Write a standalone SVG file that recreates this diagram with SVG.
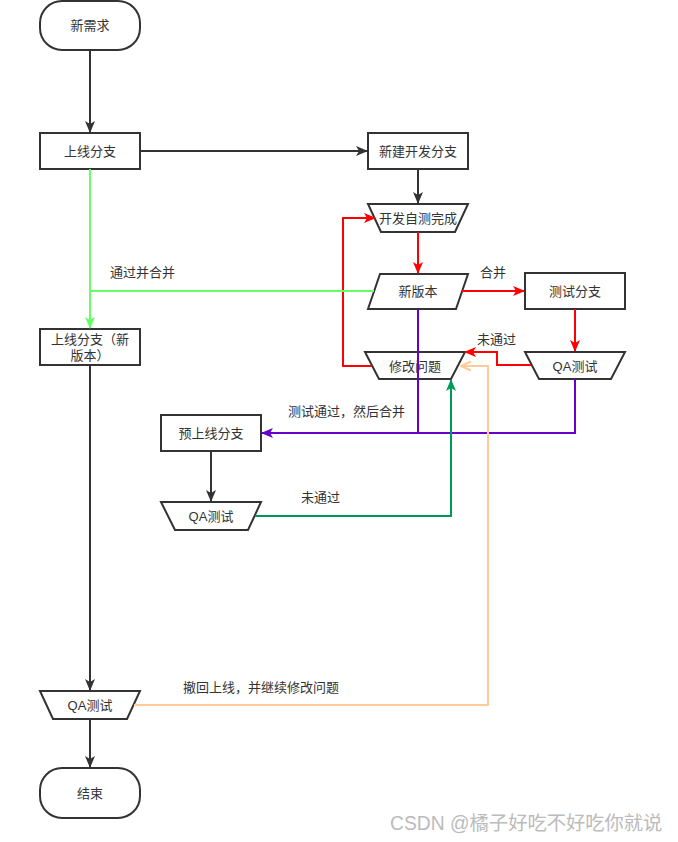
<svg xmlns="http://www.w3.org/2000/svg" width="678" height="842" viewBox="0 0 678 842">
<defs>
<style>
.n{fill:#fff;stroke:#333;stroke-width:2}
.t{font-family:"Liberation Sans","Noto Sans CJK SC",sans-serif;font-size:13px;fill:#333;text-anchor:middle;dominant-baseline:central}
.l{font-family:"Liberation Sans","Noto Sans CJK SC",sans-serif;font-size:13px;fill:#333}
.c{fill:none;stroke-width:2}
</style>
<marker id="aK" markerUnits="userSpaceOnUse" markerWidth="12" markerHeight="12" viewBox="0 0 12 12" refX="11" refY="6" orient="auto"><path d="M0,1 L12,6 L0,11 L3,6 Z" fill="#333"/></marker>
<marker id="aR" markerUnits="userSpaceOnUse" markerWidth="12" markerHeight="12" viewBox="0 0 12 12" refX="11" refY="6" orient="auto"><path d="M0,1 L12,6 L0,11 L3,6 Z" fill="#f00"/></marker>
<marker id="aP" markerUnits="userSpaceOnUse" markerWidth="12" markerHeight="12" viewBox="0 0 12 12" refX="11" refY="6" orient="auto"><path d="M0,1 L12,6 L0,11 L3,6 Z" fill="#6600cc"/></marker>
<marker id="aG" markerUnits="userSpaceOnUse" markerWidth="12" markerHeight="12" viewBox="0 0 12 12" refX="11" refY="6" orient="auto"><path d="M0,1 L12,6 L0,11 L3,6 Z" fill="#66ff66"/></marker>
<marker id="aD" markerUnits="userSpaceOnUse" markerWidth="12" markerHeight="12" viewBox="0 0 12 12" refX="11" refY="6" orient="auto"><path d="M0,1 L12,6 L0,11 L3,6 Z" fill="#00995c"/></marker>
<marker id="aO" markerUnits="userSpaceOnUse" markerWidth="12" markerHeight="12" viewBox="0 0 12 12" refX="11" refY="6" orient="auto"><path d="M1,1.5 L11,6 L1,10.5" fill="none" stroke="#ffcc99" stroke-width="2"/></marker>
</defs>
<rect width="678" height="842" fill="#fff"/>

<g id="nodes">
<g id="n-start"><rect class="n" x="40" y="1" width="100" height="49" rx="22" ry="22"/><text class="t" x="90" y="25">新需求</text></g>
<g id="n-online"><rect class="n" x="40" y="133" width="100" height="36"/><text class="t" x="90" y="151">上线分支</text></g>
<g id="n-newdev"><rect class="n" x="368" y="133" width="100" height="36"/><text class="t" x="418" y="151">新建开发分支</text></g>
<g id="n-selftest"><path class="n" d="M368,204 L468,204 L455,232 L381,232 Z"/><text class="t" x="418" y="218">开发自测完成</text></g>
<g id="n-newver"><path class="n" d="M380,274 L468,274 L456,309 L368,309 Z"/><text class="t" x="418" y="291">新版本</text></g>
<g id="n-testbr"><rect class="n" x="525" y="273" width="100" height="36"/><text class="t" x="575" y="291">测试分支</text></g>
<g id="n-fix"><path class="n" d="M365,352 L465,352 L451,379 L379,379 Z" fill="none"/><text class="t" x="415" y="366">修改问题</text></g>
<g id="n-qa1"><path class="n" d="M525,352 L625,352 L611,379 L539,379 Z"/><text class="t" x="575" y="366">QA测试</text></g>
<g id="n-pre"><rect class="n" x="161" y="415" width="100" height="36"/><text class="t" x="211" y="433">预上线分支</text></g>
<g id="n-qa2"><path class="n" d="M161,502 L261,502 L248,530 L175,530 Z"/><text class="t" x="211" y="516">QA测试</text></g>
<g id="n-onlinenew"><rect class="n" x="40" y="329" width="100" height="36"/><text class="t" x="90" y="339">上线分支（新</text><text class="t" x="90" y="355">版本）</text></g>
<g id="n-qa3"><path class="n" d="M40,691 L140,691 L127,719 L53,719 Z"/><text class="t" x="90" y="705">QA测试</text></g>
<g id="n-end"><rect class="n" x="40" y="768" width="100" height="50" rx="22" ry="22"/><text class="t" x="90" y="793">结束</text></g>
</g>

<g id="connectors">
<path class="c" stroke="#333" d="M90,50 L90,132" marker-end="url(#aK)"/>
<path class="c" stroke="#333" d="M140,151 L367,151" marker-end="url(#aK)"/>
<path class="c" stroke="#333" d="M418,169 L418,203" marker-end="url(#aK)"/>
<path class="c" stroke="#f00" d="M418,232 L418,273" marker-end="url(#aR)"/>
<path class="c" stroke="#f00" d="M462,291 L524,291" marker-end="url(#aR)"/>
<path class="c" stroke="#f00" d="M575,309 L575,351" marker-end="url(#aR)"/>
<path class="c" stroke="#f00" d="M531,365 L497,365 L497,352 L465,352" marker-end="url(#aR)"/>
<path class="c" stroke="#f00" d="M372,366 L343,366 L343,218 L375,218" marker-end="url(#aR)"/>
<path class="c" stroke="#6600cc" d="M418,309 L418,433 L262,433" marker-end="url(#aP)"/>
<path class="c" stroke="#6600cc" d="M575,379 L575,433 L418,433"/>
<path class="c" stroke="#66ff66" d="M90,169 L90,328" marker-end="url(#aG)"/>
<path class="c" stroke="#66ff66" d="M374,291 L90,291"/>
<path class="c" stroke="#333" d="M211,451 L211,501" marker-end="url(#aK)"/>
<path class="c" stroke="#00995c" d="M255,516 L451,516 L451,380" marker-end="url(#aD)"/>
<path class="c" stroke="#333" d="M90,365 L90,690" marker-end="url(#aK)"/>
<path class="c" stroke="#ffcc99" d="M134,705 L488,705 L488,366 L461,366" marker-end="url(#aO)"/>
<path class="c" stroke="#333" d="M90,719 L90,767" marker-end="url(#aK)"/>
<text class="l" x="480" y="277">合并</text>
<text class="l" x="477" y="344">未通过</text>
<text class="l" x="110" y="277">通过并合并</text>
<text class="l" x="288" y="416">测试通过，然后合并</text>
<text class="l" x="301" y="502">未通过</text>
<text class="l" x="183" y="692">撤回上线，并继续修改问题</text>
</g>
<text x="390" y="830" font-family="Liberation Sans,'Noto Sans CJK SC',sans-serif" font-size="19.3" fill="#bbb">CSDN @橘子好吃不好吃你就说</text>
</svg>
